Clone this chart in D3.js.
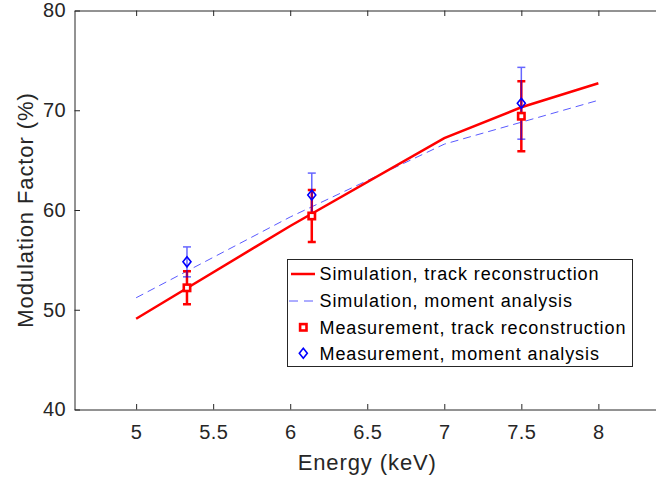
<!DOCTYPE html>
<html><head><meta charset="utf-8">
<script src="https://cdn.jsdelivr.net/npm/d3@7/dist/d3.min.js"></script>
<style>
body{margin:0;background:#fff;}
svg{display:block;font-family:"Liberation Sans",Arial,Helvetica,sans-serif;}
</style></head>
<body><svg id="chart" width="656" height="481"></svg>
<script>
// ---- data ----
const simEnergy = [5, 6, 7, 7.5, 8];
const simTrack = [49.1, 58.4, 67.2, 70.3, 72.7];
const simMoment = [51.2, 59.3, 66.6, 68.8, 71.0];
const measEnergy = [5.33, 6.14, 7.5];
const measTrack = [52.2, 59.4, 69.4];
const measTrackErr = [1.65, 2.6, 3.5];
const measMoment = [54.8, 61.5, 70.7];
const measMomentErr = [1.5, 2.2, 3.6];
const xTicks = [5, 5.5, 6, 6.5, 7, 7.5, 8];
const yTicks = [40, 50, 60, 70, 80];
const legendLabels = ["Simulation, track reconstruction", "Simulation, moment analysis",
  "Measurement, track reconstruction", "Measurement, moment analysis"];

const svg = d3.select("#chart");
const L = 74.5, R = 660, T = 10.5, B = 409.5;
const x = d3.scaleLinear().domain([4.6, 8.4]).range([L, R]);
const y = d3.scaleLinear().domain([40, 80]).range([B, T]);
const axisColor = "#262626";

svg.append("defs").append("clipPath").attr("id", "clip")
  .append("rect").attr("x", L).attr("y", T).attr("width", R - L).attr("height", B - T);

// axes
const fmt = d => String(d);
const gx = svg.append("g").attr("transform", `translate(0,${B})`)
  .call(d3.axisBottom(x).tickValues(xTicks).tickFormat(fmt).tickSizeInner(-5.5).tickSizeOuter(0).tickPadding(15.5));
const gxt = svg.append("g").attr("transform", `translate(0,${T})`)
  .call(d3.axisTop(x).tickValues(xTicks).tickFormat("").tickSizeInner(-5.5).tickSizeOuter(0));
const gy = svg.append("g").attr("transform", `translate(${L},0)`)
  .call(d3.axisLeft(y).tickValues(yTicks).tickFormat(fmt).tickSizeInner(-5.5).tickSizeOuter(0).tickPadding(8.5));
[gx, gxt, gy].forEach(g => {
  g.select(".domain").attr("stroke", axisColor).attr("stroke-width", 1);
  g.selectAll(".tick line").attr("stroke", axisColor).attr("stroke-width", 1);
  g.selectAll(".tick text").attr("fill", axisColor).style("font-size", "20px")
    .style("letter-spacing", "0.4px").style("font-family", "'Liberation Sans',Arial,sans-serif");
});

// axis labels
svg.append("text").attr("x", (L + R) / 2).attr("y", 470).attr("text-anchor", "middle")
  .attr("fill", axisColor).style("font-size", "22px").style("letter-spacing", "0.9px")
  .text("Energy (keV)");
svg.append("text").attr("transform", `translate(32.5,${(T + B) / 2}) rotate(-90)`)
  .attr("text-anchor", "middle").attr("fill", axisColor).style("font-size", "22px")
  .style("letter-spacing", "0.9px").text("Modulation Factor (%)");

const plot = svg.append("g").attr("clip-path", "url(#clip)");
const line = d3.line().x(d => x(d[0])).y(d => y(d[1]));

// simulation lines
plot.append("path").datum(simEnergy.map((e, i) => [e, simMoment[i]]))
  .attr("d", line).attr("fill", "none").attr("stroke", "#5a5aff").attr("stroke-width", 1)
  .attr("stroke-dasharray", "8,5");
plot.append("path").datum(simEnergy.map((e, i) => [e, simTrack[i]]))
  .attr("d", line).attr("fill", "none").attr("stroke", "#ff0000").attr("stroke-width", 2.5);

// error bars
function errorBars(vals, errs, color, width, opacity) {
  const g = plot.append("g").attr("stroke", color).attr("stroke-width", width).attr("opacity", opacity);
  measEnergy.forEach((e, i) => {
    const cx = x(e), y1 = y(vals[i] + errs[i]), y0 = y(vals[i] - errs[i]);
    g.append("line").attr("x1", cx).attr("x2", cx).attr("y1", y1).attr("y2", y0);
    g.append("line").attr("x1", cx - 4).attr("x2", cx + 4).attr("y1", y1).attr("y2", y1);
    g.append("line").attr("x1", cx - 4).attr("x2", cx + 4).attr("y1", y0).attr("y2", y0);
  });
}
errorBars(measTrack, measTrackErr, "#ff0000", 2.5, 1);
errorBars(measMoment, measMomentErr, "#0000ff", 1.5, 0.6);

// markers
function square(g, cx, cy) {
  g.append("rect").attr("x", cx - 3.2).attr("y", cy - 3.2).attr("width", 6.4).attr("height", 6.4)
    .attr("fill", "#fff").attr("stroke", "#ff0000").attr("stroke-width", 2.6);
}
function diamond(g, cx, cy) {
  g.append("path").attr("d", `M${cx},${cy - 5}L${cx + 4},${cy}L${cx},${cy + 5}L${cx - 4},${cy}Z`)
    .attr("fill", "none").attr("stroke", "#0000ff").attr("stroke-width", 1.6);
}
measEnergy.forEach((e, i) => square(plot, x(e), y(measTrack[i])));
measEnergy.forEach((e, i) => diamond(plot, x(e), y(measMoment[i])));

// legend
const lg = svg.append("g");
lg.append("rect").attr("x", 287.5).attr("y", 259.5).attr("width", 345).attr("height", 107)
  .attr("fill", "#fff").attr("stroke", axisColor).attr("stroke-width", 1);
const rowY = [274, 301, 327.3, 353.3];
lg.append("line").attr("x1", 291).attr("x2", 315).attr("y1", rowY[0]).attr("y2", rowY[0])
  .attr("stroke", "#ff0000").attr("stroke-width", 2.5);
lg.append("line").attr("x1", 289).attr("x2", 315).attr("y1", rowY[1]).attr("y2", rowY[1])
  .attr("stroke", "#5a5aff").attr("stroke-width", 1).attr("stroke-dasharray", "9,6");
square(lg, 303.3, rowY[2]);
diamond(lg, 303.3, rowY[3]);
legendLabels.forEach((t, i) => {
  lg.append("text").attr("x", 319.5).attr("y", rowY[i]).attr("dy", "0.36em")
    .attr("fill", "#000").style("font-size", "18px").style("letter-spacing", "0.9px").text(t);
});
</script></body></html>
